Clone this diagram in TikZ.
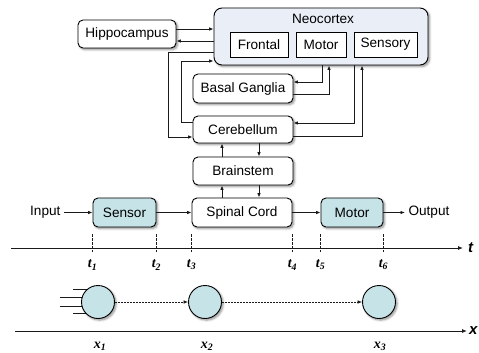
\documentclass[tikz,border=0pt]{standalone}
\usepackage{fontspec}
\setmainfont{Liberation Sans}
\newfontfamily\serifbi{Liberation Serif}
\usetikzlibrary{arrows.meta,shadows.blur}
\definecolor{cyanfill}{HTML}{C6E3E7}
\definecolor{neofill}{HTML}{E9EEF7}
\definecolor{linec}{HTML}{1A1A1A}
\tikzset{
  txt/.style={font=\fontsize{13.6}{16}\selectfont},
  box/.style={draw=black, line width=0.9pt, rounded corners=5pt, fill=white, inner sep=0pt,
    blur shadow={shadow blur steps=6, shadow xshift=1.6pt, shadow yshift=-1.6pt, shadow opacity=45},
    txt},
  inbox/.style={draw=black, line width=0.8pt, fill=white, inner sep=0pt, txt},
  arr/.style={draw=linec, line width=0.85pt, -{Latex[length=4.5pt,width=3.6pt]}},
  darr/.style={draw=linec, line width=0.7pt, dash pattern=on 2pt off 1pt, -{Latex[length=4.5pt,width=3.6pt]}},
  tick/.style={draw=linec, line width=0.7pt, dash pattern=on 2.5pt off 1.5pt},
  axis/.style={draw=linec, line width=0.85pt, -{Latex[length=5pt,width=4pt]}},
  ball/.style={circle, draw=black, line width=0.9pt, fill=cyanfill, minimum size=33pt, inner sep=0pt,
    blur shadow={shadow blur steps=6, shadow xshift=1.6pt, shadow yshift=-1.6pt, shadow opacity=45}},
  tlab/.style={font=\serifbi\fontsize{14}{16}\selectfont\bfseries\itshape},
  axlab/.style={font=\fontsize{15}{17}\selectfont\bfseries\itshape, inner sep=1pt},
}
\begin{document}
\begin{tikzpicture}[x=1pt,y=-1pt]
\useasboundingbox (0,0) rectangle (479,353);
% boxes
\node[box, fill=neofill, rounded corners=8pt, minimum width=214pt, minimum height=57pt] (neo) at (321,36.5) {};
\node[txt] (neolab) at (323,19) {Neocortex};
\node[inbox, minimum width=58pt, minimum height=25pt] (frontal) at (259,44.5) {Frontal};
\node[inbox, minimum width=50pt, minimum height=25pt] (motor) at (321,44.5) {Motor};
\node[inbox, minimum width=63pt, minimum height=25pt] (sensory) at (385.5,44.5) {Sensory};
\node[box, minimum width=98pt, minimum height=28pt] (hippo) at (127,34) {Hippocampus};
\node[box, minimum width=100pt, minimum height=29pt] (basal) at (243,88.5) {Basal Ganglia};
\node[box, minimum width=100pt, minimum height=27pt] (cereb) at (243,129.5) {Cerebellum};
\node[box, minimum width=100pt, minimum height=28pt] (brain) at (243,171) {Brainstem};
\node[box, fill=cyanfill, minimum width=63pt, minimum height=29pt] (sensor) at (124.5,212.5) {Sensor};
\node[box, minimum width=100pt, minimum height=29pt] (spinal) at (242,212.5) {Spinal Cord};
\node[box, fill=cyanfill, minimum width=62pt, minimum height=29pt] (motorb) at (352,212.5) {Motor};
\node[txt, anchor=east] (input) at (64,212.5) {Input};
\node[txt, anchor=west] (output) at (405,212.5) {Output};
% helper levels
\coordinate (yA) at (0,29);
\coordinate (yB) at (0,41);
\coordinate (yC) at (0,52);
\coordinate (yD) at (0,61);
\coordinate (yE) at (0,82);
\coordinate (yF) at (0,94);
\coordinate (yG) at (0,123);
\coordinate (yH) at (0,136);
\coordinate (yI) at (0,122);
\coordinate (yJ) at (0,137);
\coordinate (xa) at (168,0);
\coordinate (xb) at (181,0);
\coordinate (xc) at (322,0);
\coordinate (xd) at (329,0);
\coordinate (xe) at (354,0);
\coordinate (xf) at (362,0);
\coordinate (xg) at (222,0);
\coordinate (xh) at (259,0);
% connectors
\draw[arr] (hippo.east |- yA) -- (neo.west |- yA);
\draw[arr] (neo.west |- yB) -- (hippo.east |- yB);
\draw[arr] (neo.west |- yC) -- (xa |- yC) -- (xa |- yJ) -- (cereb.west |- yJ);
\draw[arr] (cereb.west |- yI) -- (xb |- yI) -- (xb |- yD) -- (neo.west |- yD);
\draw[arr] (xc |- neo.south) -- (xc |- yE) -- (basal.east |- yE);
\draw[arr] (basal.east |- yF) -- (xd |- yF) -- (xd |- neo.south);
\draw[arr] (xe |- neo.south) -- (xe |- yG) -- (cereb.east |- yG);
\draw[arr] (cereb.east |- yH) -- (xf |- yH) -- (xf |- neo.south);
\draw[arr] (brain.north -| xg) -- (cereb.south -| xg);
\draw[arr] (cereb.south -| xh) -- (brain.north -| xh);
\draw[arr] (spinal.north -| xg) -- (brain.south -| xg);
\draw[arr] (brain.south -| xh) -- (spinal.north -| xh);
\draw[arr] (input) -- (sensor);
\draw[arr] (sensor) -- (spinal);
\draw[arr] (spinal) -- (motorb);
\draw[arr] (motorb) -- (output);
% time axis
\coordinate (tA) at (11,248);
\coordinate (tB) at (463,248);
\coordinate (tk1) at (0,234);
\coordinate (tk2) at (0,252);
\coordinate (tl) at (0,265);
\draw[axis] (tA) -- (tB);
\node[axlab, anchor=west] (tlabel) at (467,248) {t};
\foreach \n/\k in {sensor.west/1, sensor.east/2, spinal.west/3, spinal.east/4, motorb.west/5, motorb.east/6}{
  \draw[tick] (\n |- tk1) -- (\n |- tk2);
  \node[tlab] (t\k) at (\n |- tl) {t\textsubscript{\k}};
}
% space axis
\coordinate (p1) at (98,302);
\coordinate (p2) at (205,302);
\coordinate (p3) at (379,302);
\coordinate (l1) at (73,289);
\coordinate (l2) at (60,297);
\coordinate (l3) at (60,306);
\coordinate (l4) at (73,313);
\foreach \l in {l1,l2,l3,l4}{ \draw[draw=linec, line width=0.8pt] (\l) -- (\l -| p1); }
\node[ball] (c1) at (p1) {};
\node[ball] (c2) at (p2) {};
\node[ball] (c3) at (p3) {};
\draw[darr] (c1) -- (c2);
\draw[darr] (c2) -- (c3);
\coordinate (xA) at (15,331);
\coordinate (xB) at (467,331);
\draw[axis] (xA) -- (xB);
\node[axlab, anchor=west] (xlabel) at (468,331) {x};
\node[tlab] (x1) at (100,346) {x\textsubscript{1}};
\node[tlab] (x2) at (207,346) {x\textsubscript{2}};
\node[tlab] (x3) at (380,346) {x\textsubscript{3}};
\end{tikzpicture}
\end{document}
